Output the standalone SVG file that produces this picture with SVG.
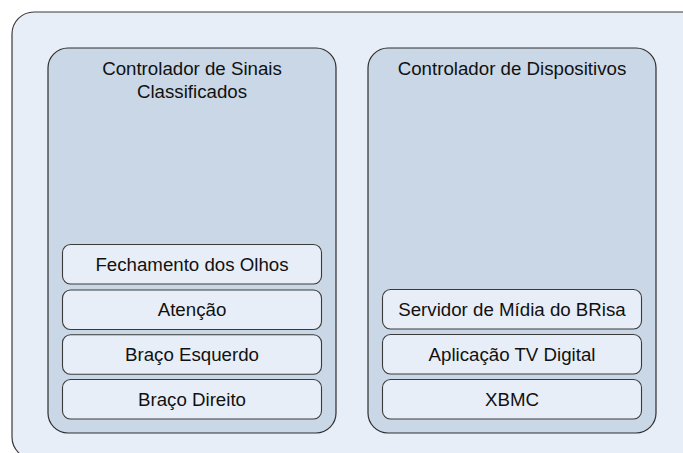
<svg xmlns="http://www.w3.org/2000/svg" width="683" height="453" viewBox="0 0 683 453">
<style>
.outer{fill:#E8EEF7;stroke:#3a3a3a;stroke-width:1.2}
.cont{fill:#C9D7E6;stroke:#2e2e2e;stroke-width:1.2}
.item{fill:#E8EEF7;stroke:#3a3a3a;stroke-width:1.1}
text{font-family:"Liberation Sans",Arial,sans-serif;font-size:18.7px;fill:#111;text-anchor:middle}
</style>
<rect width="683" height="453" fill="#ffffff"/>
<g id="sistema"><rect class="outer" x="12" y="12" width="700" height="447" rx="22"/></g>
<g id="controlador-sinais">
<rect class="cont" x="48" y="48" width="288" height="385" rx="20"/>
<text x="192" y="75">Controlador de Sinais</text>
<text x="192" y="98">Classificados</text>
</g>
<g id="controlador-dispositivos">
<rect class="cont" x="368" y="48" width="288" height="385" rx="20"/>
<text x="512" y="75">Controlador de Dispositivos</text>
</g>
<g id="fechamento"><rect class="item" x="62.5" y="244.5" width="259" height="39.5" rx="8"/><text x="192" y="270.5">Fechamento dos Olhos</text></g>
<g id="atencao"><rect class="item" x="62.5" y="290" width="259" height="39.5" rx="8"/><text x="192" y="316">Atenção</text></g>
<g id="braco-esquerdo"><rect class="item" x="62.5" y="334.8" width="259" height="39.5" rx="8"/><text x="192" y="361">Braço Esquerdo</text></g>
<g id="braco-direito"><rect class="item" x="62.5" y="379.5" width="259" height="39.5" rx="8"/><text x="192" y="405.5">Braço Direito</text></g>
<g id="servidor"><rect class="item" x="382.5" y="289.5" width="259" height="39.5" rx="8"/><text x="512" y="315.5">Servidor de Mídia do BRisa</text></g>
<g id="tv-digital"><rect class="item" x="382.5" y="334.5" width="259" height="39.5" rx="8"/><text x="512" y="360.5">Aplicação TV Digital</text></g>
<g id="xbmc"><rect class="item" x="382.5" y="379.5" width="259" height="39.5" rx="8"/><text x="512" y="405.5">XBMC</text></g>
<g id="connectors"></g>
</svg>
